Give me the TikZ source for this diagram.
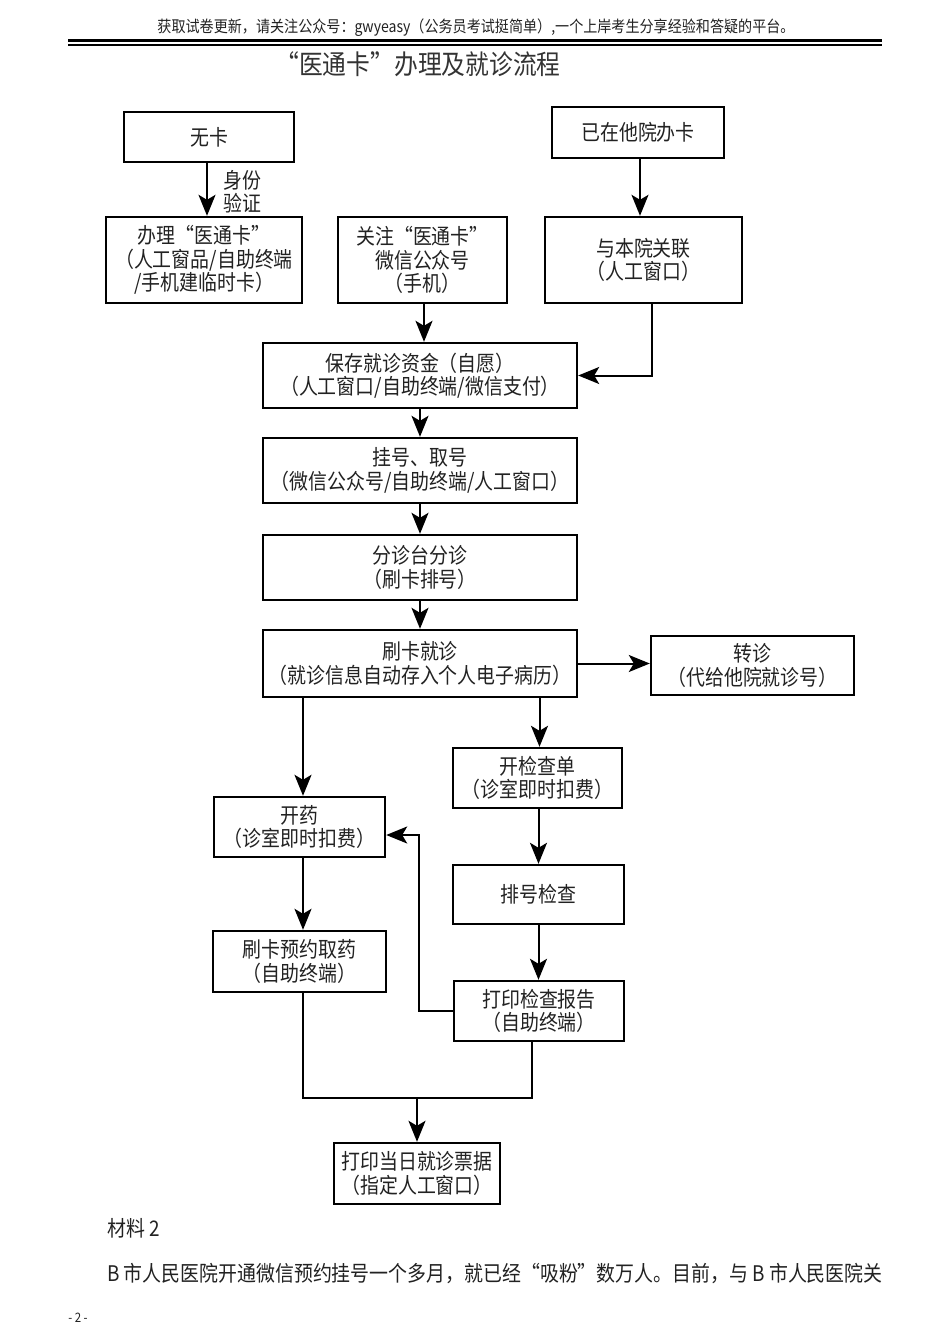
\documentclass[tikz,border=0pt]{standalone}
\usepackage{fontspec}
\setmainfont{Noto Sans CJK SC}[FakeStretch=0.88]
\usetikzlibrary{arrows.meta,calc}
\definecolor{ink}{HTML}{222222}
\tikzset{
  box/.style={draw=black,line width=2.4pt,inner sep=0pt,align=center,text=ink,
    font=\fontsize{21.5}{23.5}\selectfont},
  flow/.style={line width=2pt,-{Stealth[length=21pt,width=17pt,inset=5pt]}},
  plain/.style={line width=2pt},
  txt/.style={inner sep=0pt,text=ink}
}
\begin{document}
\begin{tikzpicture}[x=1pt,y=-1pt]
\useasboundingbox (0,0) rectangle (950,1344);
\fill[white] (0,0) rectangle (950,1344);
% header
\node[txt,font=\fontsize{16}{18}\selectfont] (hdr) at (476,28) {获取试卷更新，请关注公众号：gwyeasy（公务员考试挺简单）,一个上岸考生分享经验和答疑的平台。};
\draw[line width=2.2pt] (68,40.5) -- (882,40.5);
\draw[line width=1.4pt] (68,44.8) -- (882,44.8);
\node[txt,font=\fontsize{27}{30}\selectfont,text=black!80] (title) at (418,64) {“医通卡”办理及就诊流程};
% boxes
\node[box,minimum width=170pt,minimum height=50pt] (nocard) at (209,137) {无卡};
\node[box,minimum width=172pt,minimum height=51pt] (other) at (638,132.5) {已在他院办卡};
\node[box,minimum width=196pt,minimum height=86pt] (apply) at (204,260) {办理“医通卡”\\（人工窗品/自助终端\\/手机建临时卡）};
\node[box,minimum width=169pt,minimum height=86pt] (follow) at (422.5,260) {关注“医通卡”\\微信公众号\\（手机）};
\node[box,minimum width=197pt,minimum height=86pt] (link) at (643.5,260) {与本院关联\\（人工窗口）};
\node[box,minimum width=314pt,minimum height=65pt] (save) at (420,375.5) {保存就诊资金（自愿）\\（人工窗口/自助终端/微信支付）};
\node[box,minimum width=314pt,minimum height=65pt] (reg) at (420,470.5) {挂号、取号\\（微信公众号/自助终端/人工窗口）};
\node[box,minimum width=314pt,minimum height=65pt] (triage) at (420,567.5) {分诊台分诊\\（刷卡排号）};
\node[box,minimum width=314pt,minimum height=67pt] (visit) at (420,663.5) {刷卡就诊\\（就诊信息自动存入个人电子病历）};
\node[box,minimum width=203pt,minimum height=59pt] (transfer) at (752.5,665.5) {转诊\\（代给他院就诊号）};
\node[box,minimum width=169pt,minimum height=60pt] (exam) at (537.5,778) {开检查单\\（诊室即时扣费）};
\node[box,minimum width=171pt,minimum height=60pt] (med) at (299.5,827) {开药\\（诊室即时扣费）};
\node[box,minimum width=171pt,minimum height=59pt] (queue) at (538.5,894.5) {排号检查};
\node[box,minimum width=173pt,minimum height=61pt] (pick) at (299.5,961.5) {刷卡预约取药\\（自助终端）};
\node[box,minimum width=170pt,minimum height=60pt] (report) at (539,1011) {打印检查报告\\（自助终端）};
\node[box,minimum width=166pt,minimum height=61pt] (receipt) at (417,1173.5) {打印当日就诊票据\\（指定人工窗口）};
% label
\node[txt,anchor=west,align=left,font=\fontsize{21.5}{23}\selectfont] (idlab) at (223,192) {身份\\验证};
% connectors
\draw[flow] ([xshift=-2pt]nocard.south) -- ([xshift=-2pt]nocard.south |- apply.north);
\draw[flow] ([xshift=2pt]other.south) -- ([xshift=2pt]other.south |- link.north);
\draw[flow] ([xshift=1.5pt]follow.south) -- ([xshift=1.5pt]follow.south |- save.north);
\draw[flow] ([xshift=8pt]link.south) |- (save.east);
\draw[flow] (save.south) -- (reg.north);
\draw[flow] (reg.south) -- (triage.north);
\draw[flow] (triage.south) -- (visit.north);
\draw[flow] (visit.east) -- (visit.east -| transfer.west);
\draw[flow] ([xshift=3.5pt]med.north |- visit.south) -- ([xshift=3.5pt]med.north);
\draw[flow] ([xshift=2pt]exam.north |- visit.south) -- ([xshift=2pt]exam.north);
\draw[flow] (exam.south -| queue.north) -- (queue.north);
\draw[flow] (queue.south) -- (queue.south |- report.north);
\draw[flow] ([xshift=3.5pt]pick.north |- med.south) -- ([xshift=3.5pt]pick.north);
\coordinate (fb) at (419,835);
\draw[flow] (report.west) -| (fb) -- (fb -| med.east);
\coordinate (mj) at (417,1098);
\draw[plain] ([xshift=3.5pt]pick.south) |- (mj);
\draw[plain] ([xshift=-7pt]report.south) |- (mj);
\draw[flow] (mj) -- (receipt.north);
% text below
\node[txt,anchor=west,font=\fontsize{21.5}{23}\selectfont] (mat) at (107,1228) {材料 2};
\node[txt,anchor=west,font=\fontsize{21.5}{23}\selectfont] (body) at (107,1274) {B 市人民医院开通微信预约挂号一个多月，就已经“吸粉”数万人。目前，与 B 市人民医院关};
\node[txt,font=\fontsize{13}{15}\selectfont] (pg) at (78,1318) {- 2 -};
\end{tikzpicture}
\end{document}
